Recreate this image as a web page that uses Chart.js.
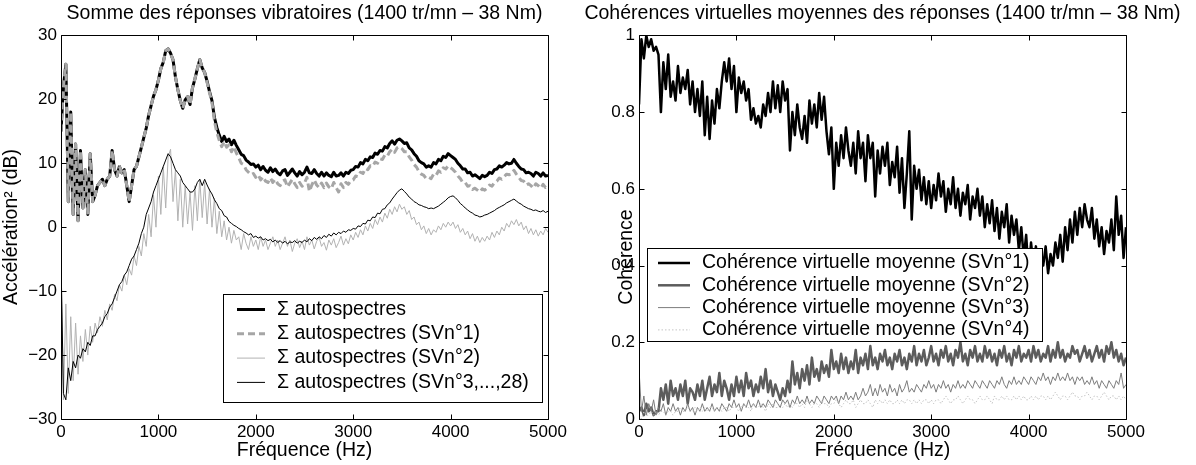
<!DOCTYPE html>
<html>
<head>
<meta charset="utf-8">
<script src="https://cdn.jsdelivr.net/npm/chart.js@4.4.1/dist/chart.umd.min.js"></script>
<style>
  html, body { margin: 0; padding: 0; background: #fff; }
  #wrap { position: relative; width: 1196px; height: 465px; }
  .panel { position: absolute; top: 0; height: 465px; }
</style>
</head>
<body>
<div id="wrap">
  <div class="panel" style="left:0;width:575px"><canvas id="spectra"></canvas></div>
  <div class="panel" style="left:575px;width:621px"><canvas id="coherence"></canvas></div>
</div>
<script>
// spectra sampled every 25 Hz, 0..5000 Hz (201 points)
const FREQ_STEP = 25;

// left panel: summed autospectra, dB
const totalSpec = [
  15, 22, 25.5, 4, 18, 2, 13, 1, 12, 3, 9, 2, 11.5, 4, 5, 6.5, 7, 7.5, 6.5, 7.5,
  8, 12, 9, 8, 9.5, 8.5, 9, 6.5, 4, 6.5, 9, 9.5, 11, 12.5, 14, 15.5, 17.5, 19, 20.5, 21.5,
  23, 24.8, 25.8, 27.6, 27.9, 27.2, 26.2, 23.5, 21.5, 19.8, 18.6, 19.9, 20.4, 19.2, 21.8, 23.2, 24.8, 26.2, 24.9, 24.2,
  22.8, 21.2, 19.8, 17.2, 15.6, 14.4, 13.4, 14.2, 13.4, 13.8, 12.9, 13.6, 12.8, 12.1, 11.4, 11.2, 10.5, 10.2, 9.8, 9.9,
  9.4, 9.7, 9.0, 9.5, 8.9, 8.6, 9.3, 8.7, 9.1, 8.5, 8.2, 8.8, 9.0, 8.1, 8.6, 9.1, 8.5, 8.0, 8.7, 8.2,
  8.6, 9.4, 8.5, 8.4, 9.0, 8.4, 8.0, 8.6, 8.0, 8.5, 8.1, 7.9, 8.6, 8.0, 8.1, 8.5, 8.0, 8.6, 8.4, 8.9,
  9.0, 9.5, 9.4, 10.1, 9.9, 10.6, 10.4, 11.0, 10.9, 11.6, 11.4, 12.0, 11.9, 12.6, 12.4, 13.1, 13.5, 13.0, 13.6, 13.8,
  13.5, 13.1, 13.2, 12.4, 12.1, 11.5, 11.1, 10.4, 10.1, 9.9, 9.4, 9.6, 9.4, 10.1, 9.9, 10.6, 10.4, 11.1, 10.9, 11.5,
  11.2, 10.9, 10.6, 10.0, 9.6, 9.1, 9.1, 8.5, 8.6, 8.0, 8.2, 7.9, 7.6, 8.1, 7.9, 8.1, 8.6, 8.4, 9.0, 9.1,
  9.6, 9.4, 9.7, 10.1, 9.9, 10.0, 10.6, 10.0, 9.5, 9.1, 9.0, 8.5, 8.6, 8.4, 8.0, 8.6, 8.4, 8.0, 8.5, 8.0,
  8.1
];
const svn1Spec = [
  15, 22, 25.5, 4, 18, 2, 13, 1, 12, 3, 9, 2, 11.5, 4, 5, 6.5, 7, 7.5, 6.5, 7.5,
  8, 12, 9, 8, 9.5, 8.5, 9, 6.5, 4, 6.5, 9, 9.5, 11, 12.5, 14, 15.5, 17.5, 19, 20.5, 21.5,
  23, 24.8, 25.8, 27.6, 27.9, 27.2, 26.2, 23.5, 21.5, 19.8, 18.6, 19.9, 20.4, 19.2, 21.8, 23.2, 24.8, 26.2, 24.9, 24.2,
  22.6, 21.0, 19.5, 16.6, 14.8, 13.6, 12.6, 13.4, 12.5, 12.9, 11.8, 12.6, 11.6, 10.9, 10.0, 9.8, 9.0, 8.6, 8.2, 8.4,
  7.8, 8.2, 7.4, 7.9, 7.2, 7.0, 7.7, 7.0, 7.5, 6.8, 6.5, 7.2, 7.4, 6.3, 6.9, 7.5, 6.8, 6.2, 7.0, 6.4,
  6.9, 7.8, 5.6, 6.6, 7.4, 6.6, 6.2, 6.9, 6.2, 6.9, 6.3, 6.0, 7.0, 6.2, 5.5, 6.8, 6.2, 7.0, 6.7, 7.3,
  7.4, 8.0, 7.9, 8.6, 8.4, 9.2, 9.0, 9.6, 9.5, 10.2, 10.0, 10.7, 10.6, 11.3, 11.1, 11.8, 12.2, 11.7, 12.4, 12.6,
  12.3, 11.8, 11.8, 11.0, 10.5, 9.8, 9.4, 8.7, 8.3, 8.1, 7.6, 7.8, 7.6, 8.3, 8.1, 8.8, 8.6, 9.3, 9.1, 9.6,
  9.3, 9.0, 8.6, 8.0, 7.6, 7.0, 7.0, 6.4, 6.5, 5.9, 6.1, 5.8, 5.5, 6.0, 5.8, 6.1, 6.6, 6.4, 7.0, 7.2,
  7.7, 7.5, 7.9, 8.3, 8.2, 8.3, 8.9, 8.3, 7.8, 7.3, 7.2, 6.6, 6.8, 6.5, 6.1, 6.8, 6.5, 6.1, 6.7, 6.2,
  6.4
];
const svn2Spec = [
  -5, -27, -12, -26, -14, -24, -15, -23, -17, -21, -16, -20, -15.5, -18, -15, -16.5, -14, -15.5, -13, -14.5,
  -12, -13, -10.5, -11.5, -9, -10, -7.5, -9, -6.5, -7.5, -4.5, -6, -3, -4.5, -1, -3, 2, -1.5, 5, 0,
  8, 2, 9.5, 3, 11, 12.2, 4, 9, 1, 7.5, 0, 6.5, 0.5, 5.5, -0.5, 6.5, 1, 7.5, 1.5, 7,
  0.5, 6, 0, 4.5, -1, 2.5, -1.5, 1, -2, 0, -2.5, -0.5, -2, -1.5, -3.5, -1, -2.5, -3.5, -1.5, -3,
  -2, -3.5, -1.5, -3, -2, -3.5, -2.5, -1.5, -3, -2, -3.5, -2.5, -1.5, -3, -2, -3.8, -2.5, -1.8, -3.2, -2.2,
  -3.5, -1.5, -2.8, -2, -3.4, -2.2, -1.6, -3, -2.4, -3.6, -2, -2.8, -1.8, -3.2, -2.4, -1.4, -2.8, -1.8, -2.6, -1.2,
  -2, -0.8, -1.6, -0.4, -1.2, 0.2, -0.6, 0.6, -0.2, 1.2, 0.4, 1.6, 0.8, 2.2, 1.4, 2.8, 2, 3.2, 2.4, 3.6,
  2.8, 3.2, 2, 2.6, 1.2, 1.6, 0.4, 0.8, -0.4, 0.2, -1, -0.2, -1.2, -0.4, -0.8, 0.2, -0.4, 0.6, 0, 0.8,
  0.2, 0.8, -0.2, 0.4, -0.8, -0.2, -1.2, -0.6, -1.8, -1, -2.2, -1.4, -2.4, -1.6, -2.2, -1.4, -2, -0.8, -1.6, -0.6,
  -1.2, 0, -0.6, 0.6, 0, 1, 0.4, 1.2, 0.2, 0.8, -0.4, 0.2, -1, -0.2, -1.2, -0.4, -1.4, -0.6, -1.2, -0.2,
  -0.8
];
const svn3Spec = [
  -5, -26, -27, -22, -24, -21, -22, -20, -20.5, -19, -19.5, -18, -18.5, -17, -17, -16, -15.5, -15, -14, -13.5,
  -12.5, -12, -11, -10, -9, -8.5, -7.5, -7, -6, -5, -4.5, -3.5, -2.5, -1, 0, 2, 3, 4, 5.5, 6.5,
  7.5, 8.5, 9.5, 10.5, 11.5, 11, 10, 9, 8.5, 8, 7, 6.5, 6, 5.5, 5.5, 6, 7, 7.5, 6.5, 7.5,
  6.6, 5.8, 5.2, 4.3, 3.7, 2.9, 2.6, 1.8, 1.6, 0.9, 0.6, 0.3, 0.1, -0.2, -0.4, -0.7, -0.9, -1.2, -1.0, -1.6,
  -1.4, -1.7, -1.5, -2.0, -1.8, -2.1, -1.9, -2.3, -2.0, -2.4, -2.1, -2.5, -2.2, -2.6, -2.3, -2.4, -2.1, -2.5, -2.2, -2.4,
  -2.0, -2.3, -1.8, -2.1, -1.6, -1.9, -1.5, -1.8, -1.3, -1.6, -1.1, -1.4, -0.9, -1.2, -0.8, -1.0, -0.6, -0.8, -0.4, -0.5,
  -0.2, -0.3, 0.2, 0.1, 0.6, 0.5, 1.1, 1.0, 1.6, 1.5, 2.2, 2.1, 2.8, 2.9, 3.5, 3.8, 4.4, 4.9, 5.4, 5.8,
  6.0, 5.6, 5.2, 4.7, 4.4, 4.0, 3.8, 3.5, 3.4, 3.2, 3.1, 2.9, 3.0, 2.9, 3.1, 3.3, 3.6, 3.9, 4.2, 4.6,
  4.8, 4.9, 4.6, 4.2, 3.7, 3.4, 3.0, 2.7, 2.4, 2.2, 1.9, 1.8, 1.6, 1.7, 1.9, 2.0, 2.2, 2.4, 2.6, 2.9,
  3.1, 3.3, 3.5, 3.8, 4.0, 4.2, 4.4, 4.1, 3.8, 3.6, 3.3, 3.1, 2.9, 2.8, 2.6, 2.7, 2.5, 2.4, 2.6, 2.3,
  2.5
];

// right panel: mean virtual coherences
const coh1 = [
  0.82, 0.99, 0.94, 1.0, 0.97, 0.99, 0.96, 0.97, 0.95, 0.80, 0.93, 0.86, 0.95, 0.84, 0.88, 0.83, 0.92, 0.85, 0.89, 0.86,
  0.91, 0.82, 0.88, 0.80, 0.86, 0.79, 0.88, 0.74, 0.84, 0.73, 0.83, 0.77, 0.86, 0.81, 0.88, 0.93, 0.88, 0.94, 0.86, 0.92,
  0.80, 0.89, 0.85, 0.88, 0.83, 0.86, 0.78, 0.81, 0.77, 0.79, 0.76, 0.82, 0.79, 0.85, 0.80, 0.88, 0.81, 0.87, 0.80, 0.88,
  0.83, 0.86, 0.70, 0.80, 0.74, 0.82, 0.76, 0.73, 0.79, 0.72, 0.83, 0.77, 0.82, 0.76, 0.85, 0.78, 0.84, 0.75, 0.69, 0.76,
  0.60, 0.72, 0.66, 0.74, 0.68, 0.76, 0.70, 0.66, 0.72, 0.64, 0.75, 0.68, 0.72, 0.62, 0.74, 0.68, 0.72, 0.58, 0.70, 0.64,
  0.71, 0.66, 0.72, 0.61, 0.67, 0.63, 0.71, 0.59, 0.68, 0.55, 0.64, 0.75, 0.52, 0.66, 0.60, 0.65, 0.57, 0.63, 0.56, 0.62,
  0.55, 0.61, 0.57, 0.64, 0.58, 0.62, 0.54, 0.60, 0.56, 0.63, 0.55, 0.60, 0.53, 0.59, 0.56, 0.61, 0.52, 0.58, 0.55, 0.60,
  0.53, 0.58, 0.50, 0.56, 0.51, 0.57, 0.49, 0.55, 0.47, 0.54, 0.50, 0.56, 0.46, 0.53, 0.48, 0.52, 0.44, 0.50, 0.42, 0.48,
  0.38, 0.46, 0.40, 0.45, 0.37, 0.44, 0.40, 0.45, 0.38, 0.43, 0.40, 0.46, 0.42, 0.48, 0.41, 0.50, 0.44, 0.52, 0.46, 0.54,
  0.48, 0.55, 0.50, 0.56, 0.52, 0.50, 0.55, 0.47, 0.52, 0.45, 0.50, 0.43, 0.49, 0.46, 0.52, 0.44, 0.58, 0.48, 0.53, 0.42,
  0.50
];
const coh2 = [
  0.02, 0.03, 0.01, 0.04, 0.02, 0.03, 0.01, 0.02, 0.02, 0.08, 0.05, 0.09, 0.04, 0.10, 0.06, 0.08, 0.05, 0.09, 0.06, 0.10,
  0.04, 0.08, 0.07, 0.05, 0.09, 0.06, 0.10, 0.05, 0.08, 0.11, 0.06, 0.09, 0.07, 0.12, 0.06, 0.10, 0.08, 0.05, 0.09, 0.06,
  0.11, 0.07, 0.10, 0.06, 0.12, 0.08, 0.10, 0.06, 0.09, 0.07, 0.11, 0.08, 0.13, 0.07, 0.10, 0.06, 0.09, 0.07, 0.05, 0.08,
  0.06, 0.10, 0.07, 0.15, 0.09, 0.12, 0.08, 0.13, 0.10, 0.14, 0.09, 0.16, 0.11, 0.13, 0.10, 0.15, 0.12, 0.14, 0.11, 0.18,
  0.13, 0.15, 0.12, 0.17, 0.13, 0.16, 0.12, 0.15, 0.13, 0.18, 0.12, 0.16, 0.14, 0.17, 0.13, 0.19, 0.14, 0.16, 0.13, 0.17,
  0.15, 0.18, 0.14, 0.16, 0.13, 0.17, 0.15, 0.18, 0.14, 0.16, 0.13, 0.17, 0.15, 0.19, 0.14, 0.17, 0.15, 0.18, 0.14, 0.16,
  0.19, 0.15, 0.17, 0.14, 0.18, 0.16, 0.19, 0.15, 0.17, 0.14, 0.18, 0.16, 0.20, 0.15, 0.17, 0.14, 0.18, 0.16, 0.19, 0.15,
  0.17, 0.15, 0.19, 0.16, 0.18, 0.15, 0.17, 0.14, 0.18, 0.16, 0.19, 0.15, 0.17, 0.14, 0.18, 0.16, 0.19, 0.15, 0.17, 0.16,
  0.18, 0.15, 0.19, 0.16, 0.18, 0.15, 0.17, 0.16, 0.19, 0.15, 0.18, 0.16, 0.20, 0.16, 0.18, 0.15, 0.17, 0.16, 0.19, 0.17,
  0.18, 0.15, 0.17, 0.19, 0.16, 0.18, 0.15, 0.17, 0.19, 0.16, 0.18, 0.15, 0.19, 0.17, 0.20, 0.16, 0.18, 0.15, 0.17, 0.14,
  0.16
];
const coh3 = [
  0.13, 0.02, 0.06, 0.01, 0.04, 0.02, 0.05, 0.01, 0.03, 0.02, 0.04, 0.01, 0.03, 0.02, 0.04, 0.02, 0.03, 0.01, 0.03, 0.02,
  0.04, 0.02, 0.03, 0.01, 0.03, 0.02, 0.04, 0.02, 0.03, 0.02, 0.04, 0.02, 0.03, 0.02, 0.04, 0.03, 0.02, 0.04, 0.03, 0.05,
  0.03, 0.04, 0.02, 0.04, 0.03, 0.05, 0.03, 0.04, 0.03, 0.05, 0.03, 0.04, 0.03, 0.05, 0.04, 0.03, 0.05, 0.04, 0.03, 0.05,
  0.04, 0.05, 0.03, 0.05, 0.04, 0.06, 0.04, 0.05, 0.04, 0.06, 0.04, 0.05, 0.04, 0.06, 0.05, 0.04, 0.06, 0.05, 0.04, 0.06,
  0.05, 0.06, 0.04, 0.06, 0.05, 0.07, 0.05, 0.06, 0.05, 0.07, 0.05, 0.06, 0.08, 0.06, 0.07, 0.09, 0.06, 0.08, 0.06, 0.09,
  0.07, 0.08, 0.06, 0.09, 0.07, 0.08, 0.06, 0.09, 0.07, 0.08, 0.10, 0.07, 0.08, 0.07, 0.09, 0.08, 0.07, 0.09, 0.08, 0.10,
  0.08, 0.09, 0.07, 0.09, 0.08, 0.10, 0.08, 0.09, 0.07, 0.09, 0.08, 0.10, 0.08, 0.09, 0.08, 0.10, 0.09, 0.08, 0.10, 0.09,
  0.08, 0.10, 0.09, 0.08, 0.10, 0.09, 0.08, 0.10, 0.09, 0.11, 0.09, 0.08, 0.10, 0.09, 0.11, 0.09, 0.10, 0.09, 0.11, 0.10,
  0.09, 0.11, 0.10, 0.09, 0.11, 0.10, 0.12, 0.10, 0.11, 0.09, 0.11, 0.10, 0.12, 0.10, 0.11, 0.10, 0.12, 0.10, 0.11, 0.09,
  0.11, 0.10, 0.11, 0.09, 0.10, 0.09, 0.11, 0.09, 0.10, 0.08, 0.10, 0.09, 0.08, 0.10, 0.09, 0.08, 0.10, 0.09, 0.12, 0.08,
  0.09
];
const coh4 = [
  0.01, 0.00, 0.02, 0.01, 0.01, 0.02, 0.01, 0.02, 0.01, 0.02, 0.02, 0.01, 0.02, 0.02, 0.01, 0.02, 0.02, 0.03, 0.02, 0.02,
  0.03, 0.02, 0.02, 0.03, 0.02, 0.03, 0.02, 0.03, 0.02, 0.03, 0.03, 0.02, 0.03, 0.03, 0.02, 0.03, 0.03, 0.02, 0.03, 0.03,
  0.03, 0.02, 0.03, 0.04, 0.03, 0.03, 0.02, 0.04, 0.03, 0.03, 0.04, 0.03, 0.02, 0.04, 0.03, 0.04, 0.03, 0.03, 0.04, 0.03,
  0.04, 0.03, 0.04, 0.03, 0.04, 0.04, 0.03, 0.04, 0.03, 0.05, 0.04, 0.03, 0.04, 0.04, 0.03, 0.05, 0.04, 0.04, 0.03, 0.04,
  0.04, 0.05, 0.04, 0.03, 0.04, 0.05, 0.04, 0.04, 0.05, 0.03, 0.04, 0.05, 0.04, 0.04, 0.05, 0.04, 0.03, 0.05, 0.04, 0.05,
  0.04, 0.05, 0.04, 0.05, 0.04, 0.04, 0.05, 0.04, 0.05, 0.04, 0.05, 0.05, 0.04, 0.05, 0.04, 0.05, 0.04, 0.05, 0.05, 0.04,
  0.05, 0.04, 0.05, 0.05, 0.04, 0.05, 0.06, 0.05, 0.04, 0.05, 0.05, 0.06, 0.05, 0.04, 0.05, 0.06, 0.05, 0.05, 0.04, 0.05,
  0.06, 0.05, 0.05, 0.06, 0.05, 0.04, 0.06, 0.05, 0.05, 0.06, 0.05, 0.06, 0.05, 0.05, 0.06, 0.05, 0.06, 0.05, 0.06, 0.05,
  0.05, 0.06, 0.05, 0.06, 0.05, 0.06, 0.06, 0.05, 0.06, 0.05, 0.06, 0.07, 0.06, 0.05, 0.06, 0.06, 0.05, 0.06, 0.07, 0.06,
  0.06, 0.05, 0.06, 0.06, 0.07, 0.06, 0.05, 0.06, 0.06, 0.05, 0.06, 0.07, 0.06, 0.05, 0.06, 0.06, 0.05, 0.06, 0.05, 0.06,
  0.05
];

const spectraLabels = ['Σ autospectres', 'Σ autospectres (SVn°1)', 'Σ autospectres (SVn°2)', 'Σ autospectres (SVn°3,...,28)'];
const cohLabels = ['Cohérence virtuelle moyenne (SVn°1)', 'Cohérence virtuelle moyenne (SVn°2)',
  'Cohérence virtuelle moyenne (SVn°3)', 'Cohérence virtuelle moyenne (SVn°4)'];
const freqTicks = [0, 1000, 2000, 3000, 4000, 5000];

const FONT = "'Liberation Sans', Arial, Helvetica, sans-serif";

function toPoints(values) {
  return values.map((v, i) => ({ x: i * FREQ_STEP, y: v }));
}

function lineSet(label, values, color, width, dash, order) {
  return {
    label: label,
    data: toPoints(values),
    borderColor: color,
    borderWidth: width,
    borderDash: dash || [],
    pointRadius: 0,
    tension: 0,
    borderJoinStyle: 'round',
    order: order
  };
}

// MATLAB style box with inward ticks on all four sides
const matlabBox = {
  id: 'matlabBox',
  afterDatasetsDraw(chart) {
    const { ctx, chartArea: a, scales: { x, y } } = chart;
    const L = Math.round(a.left) + 0.5, R = Math.round(a.right) + 0.5;
    const T = Math.round(a.top) + 0.5, B = Math.round(a.bottom) + 0.5;
    const len = 5;
    ctx.save();
    ctx.strokeStyle = '#000';
    ctx.lineWidth = 1;
    ctx.beginPath();
    ctx.rect(L, T, R - L, B - T);
    x.ticks.forEach(t => {
      const px = Math.round(x.getPixelForValue(t.value)) + 0.5;
      ctx.moveTo(px, B); ctx.lineTo(px, B - len);
      ctx.moveTo(px, T); ctx.lineTo(px, T + len);
    });
    y.ticks.forEach(t => {
      const py = Math.round(y.getPixelForValue(t.value)) + 0.5;
      ctx.moveTo(L, py); ctx.lineTo(L + len, py);
      ctx.moveTo(R, py); ctx.lineTo(R - len, py);
    });
    ctx.stroke();
    ctx.restore();
  }
};

// panel title (may be wider than the axes) and y label
const panelText = {
  id: 'panelText',
  afterDraw(chart, args, opts) {
    const { ctx, chartArea: a } = chart;
    ctx.save();
    ctx.fillStyle = '#000';
    ctx.font = opts.fontSize + 'px ' + FONT;
    ctx.textAlign = 'center';
    ctx.textBaseline = 'middle';
    ctx.fillText(opts.title, (a.left + a.right) / 2, opts.titleY);
    ctx.translate(opts.yLabelX, opts.yLabelY);
    ctx.rotate(-Math.PI / 2);
    ctx.fillText(opts.yLabel, 0, 0);
    ctx.restore();
  }
};

// legend drawn inside the axes, like MATLAB
const boxLegend = {
  id: 'boxLegend',
  afterDraw(chart, args, opts) {
    const ctx = chart.ctx;
    ctx.save();
    ctx.fillStyle = '#fff';
    ctx.fillRect(opts.x, opts.y, opts.w, opts.h);
    ctx.strokeStyle = '#000';
    ctx.lineWidth = 1;
    ctx.strokeRect(opts.x + 0.5, opts.y + 0.5, opts.w, opts.h);
    ctx.font = opts.fontSize + 'px ' + FONT;
    ctx.textBaseline = 'middle';
    chart.data.datasets.forEach((ds, i) => {
      const cy = opts.firstRow + i * opts.rowGap;
      ctx.beginPath();
      ctx.strokeStyle = ds.borderColor;
      ctx.lineWidth = ds.borderWidth;
      ctx.setLineDash(ds.borderDash || []);
      ctx.moveTo(opts.sampleFrom, cy);
      ctx.lineTo(opts.sampleTo, cy);
      ctx.stroke();
      ctx.setLineDash([]);
      ctx.fillStyle = '#000';
      ctx.fillText(ds.label, opts.textX, cy);
    });
    ctx.restore();
  }
};

function baseOptions(cfg) {
  return {
    responsive: true,
    maintainAspectRatio: false,
    animation: false,
    events: [],
    layout: { padding: { left: 0, right: cfg.padRight, top: 35.4, bottom: 0 } },
    plugins: {
      legend: { display: false },
      tooltip: { enabled: false },
      title: { display: false },
      panelText: cfg.text,
      boxLegend: cfg.legend
    },
    scales: {
      x: {
        type: 'linear', min: 0, max: 5000,
        afterBuildTicks: s => { s.ticks = freqTicks.map(v => ({ value: v })); },
        ticks: {
          color: '#000', font: { family: FONT, size: 17 }, padding: 3,
          maxRotation: 0, autoSkip: false, callback: v => String(v)
        },
        grid: { display: false, drawTicks: false },
        border: { display: false },
        title: {
          display: true, text: 'Fréquence (Hz)', color: '#000',
          font: { family: FONT, size: 19.5 }, padding: { top: 0, bottom: 3 }
        },
        afterFit: s => { s.height = 46; }
      },
      y: {
        type: 'linear', min: cfg.yMin, max: cfg.yMax,
        afterBuildTicks: s => { s.ticks = cfg.yTicks.map(v => ({ value: v })); },
        ticks: { color: '#000', font: { family: FONT, size: 17 }, padding: 4, callback: cfg.yFormat },
        grid: { display: false, drawTicks: false },
        border: { display: false },
        afterFit: s => { s.width = cfg.yWidth; }
      }
    }
  };
}

new Chart(document.getElementById('spectra'), {
  type: 'line',
  data: {
    datasets: [
      lineSet(spectraLabels[0], totalSpec, '#000000', 3, null, 4),
      lineSet(spectraLabels[1], svn1Spec, '#a6a6a6', 3, [7, 4], 3),
      lineSet(spectraLabels[2], svn2Spec, '#b2b2b2', 1, null, 2),
      lineSet(spectraLabels[3], svn3Spec, '#000000', 1, null, 1)
    ]
  },
  options: baseOptions({
    padRight: 27,
    yMin: -30, yMax: 30,
    yTicks: [-30, -20, -10, 0, 10, 20, 30],
    yFormat: v => (v < 0 ? '−' + Math.abs(v) : String(v)),
    yWidth: 61,
    text: { title: 'Somme des réponses vibratoires (1400 tr/mn – 38 Nm)', titleY: 13.5,
            yLabel: 'Accélération² (dB)', yLabelX: 12, yLabelY: 227, fontSize: 19.5 },
    legend: { x: 223, y: 294, w: 319, h: 108, firstRow: 309.5, rowGap: 24.3,
              sampleFrom: 237, sampleTo: 265, textX: 277, fontSize: 19.5 }
  }),
  plugins: [matlabBox, panelText, boxLegend]
});

new Chart(document.getElementById('coherence'), {
  type: 'line',
  data: {
    datasets: [
      lineSet(cohLabels[0], coh1, '#000000', 2.5, null, 4),
      lineSet(cohLabels[1], coh2, '#5c5c5c', 2.5, null, 3),
      lineSet(cohLabels[2], coh3, '#7c7c7c', 1, null, 2),
      lineSet(cohLabels[3], coh4, '#c4c4c4', 1, [1.5, 2], 1)
    ]
  },
  options: baseOptions({
    padRight: 70,
    yMin: 0, yMax: 1,
    yTicks: [0, 0.2, 0.4, 0.6, 0.8, 1],
    yFormat: v => String(+v.toFixed(1)),
    yWidth: 64,
    text: { title: 'Cohérences virtuelles moyennes des réponses (1400 tr/mn – 38 Nm)', titleY: 13.5,
            yLabel: 'Cohérence', yLabelX: 52, yLabelY: 257, fontSize: 19.5 },
    legend: { x: 72, y: 248, w: 395, h: 93, firstRow: 263, rowGap: 22.3,
              sampleFrom: 83, sampleTo: 115, textX: 127, fontSize: 19.5 }
  }),
  plugins: [matlabBox, panelText, boxLegend]
});
</script>
</body>
</html>
